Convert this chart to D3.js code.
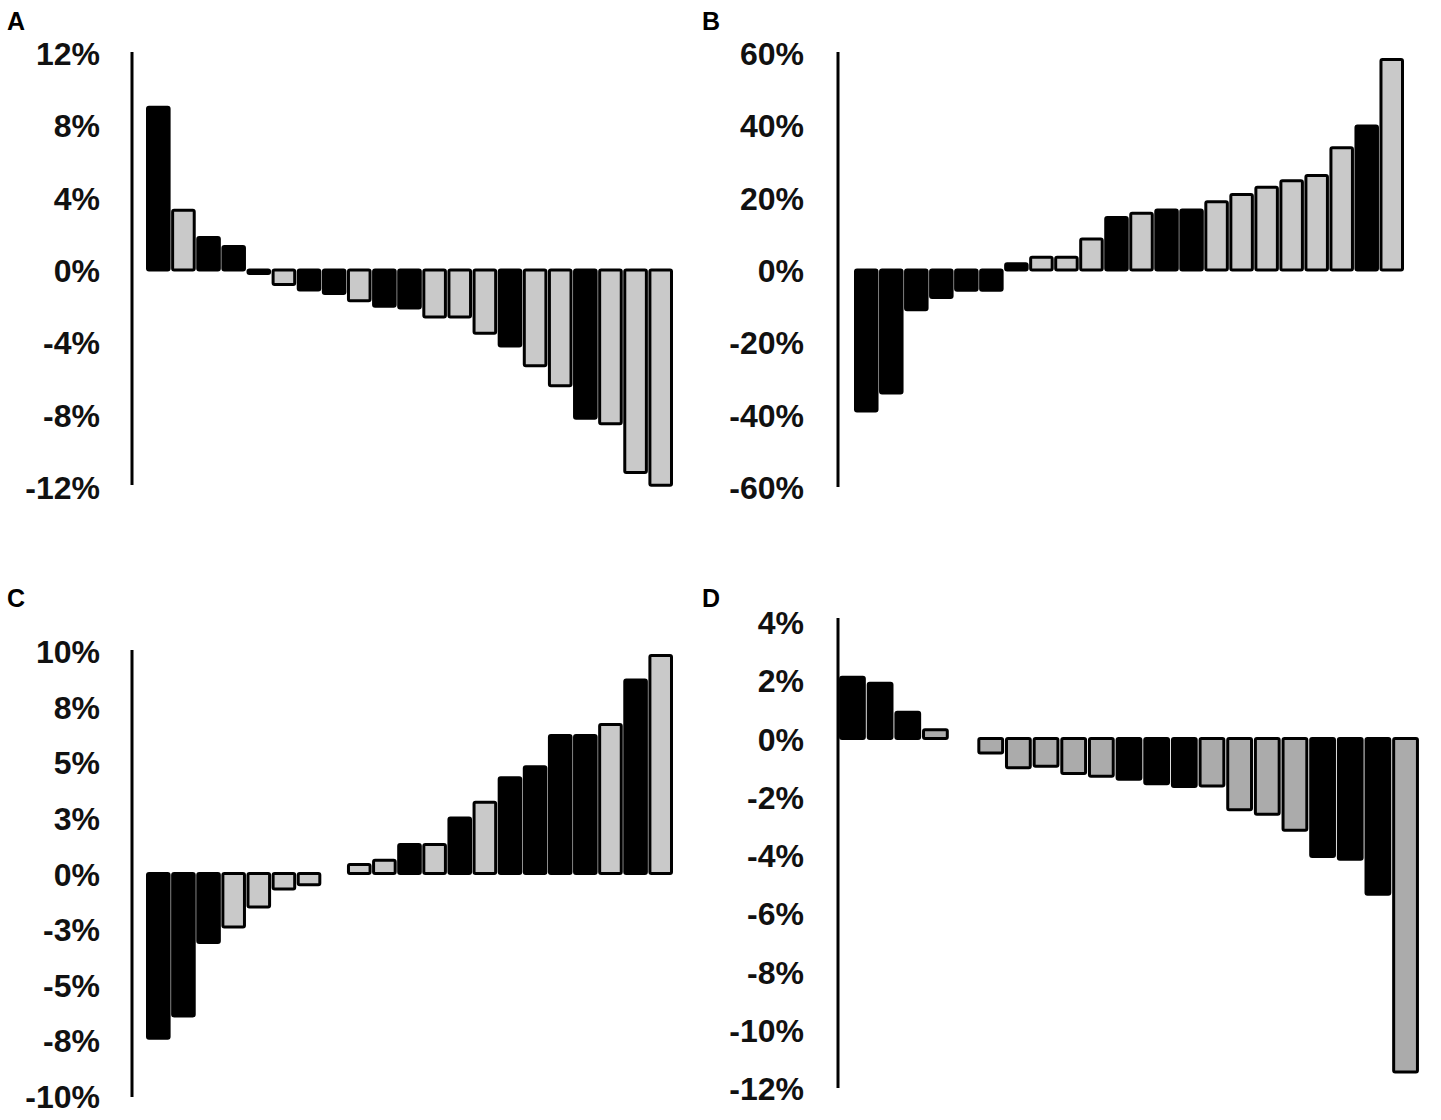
<!DOCTYPE html>
<html>
<head>
<meta charset="utf-8">
<script src="https://cdn.jsdelivr.net/npm/d3@7"></script>
<style>
  body { margin: 0; background: #fff; }
  svg { display: block; }
  .tick text { font-family: "Liberation Sans", Arial, sans-serif; font-weight: bold; font-size: 32px; fill: #111; }
  .panel-label { font-family: "Liberation Sans", Arial, sans-serif; font-weight: bold; font-size: 25px; fill: #000; }
</style>
</head>
<body>
<div id="chart"></div>
<script>
// panel A
const valuesA = [9.0, 3.3, 1.8, 1.3, -0.2, -0.8, -1.1, -1.3, -1.7, -2.0, -2.1, -2.6, -2.6, -3.5, -4.2, -5.3, -6.4, -8.2, -8.5, -11.2, -11.9];
const groupA  = [1, 0, 1, 1, 1, 0, 1, 1, 0, 1, 1, 0, 0, 0, 1, 0, 0, 1, 0, 0, 0];
const ticksA  = [-12, -8, -4, 0, 4, 8, 12];
const tickLabelsA = ["-12%", "-8%", "-4%", "0%", "4%", "8%", "12%"];

// panel B
const valuesB = [-39, -34, -11, -7.6, -5.6, -5.6, 1.7, 3.5, 3.5, 8.6, 14.5, 15.7, 16.6, 16.6, 18.9, 20.9, 22.9, 24.7, 26.1, 33.8, 39.8, 58.2];
const groupB  = [1, 1, 1, 1, 1, 1, 1, 0, 0, 0, 1, 0, 1, 1, 0, 0, 0, 0, 0, 0, 1, 0];
const ticksB  = [-60, -40, -20, 0, 20, 40, 60];
const tickLabelsB = ["-60%", "-40%", "-20%", "0%", "20%", "40%", "60%"];

// panel C (slot 8 has no bar)
const valuesC = [-7.4, -6.4, -3.1, -2.4, -1.5, -0.7, -0.5, null, 0.4, 0.6, 1.3, 1.3, 2.5, 3.2, 4.3, 4.8, 6.2, 6.2, 6.7, 8.7, 9.8];
const groupC  = [1, 1, 1, 0, 0, 0, 0, null, 0, 0, 1, 0, 1, 0, 1, 1, 1, 1, 0, 1, 0];
const ticksC  = [-10, -7.5, -5, -2.5, 0, 2.5, 5, 7.5, 10];
const tickLabelsC = ["-10%", "-8%", "-5%", "-3%", "0%", "3%", "5%", "8%", "10%"];

// panel D (slot 5 has no bar)
const valuesD = [2.1, 1.9, 0.9, 0.3, null, -0.5, -1.0, -0.95, -1.2, -1.3, -1.4, -1.55, -1.65, -1.63, -2.45, -2.6, -3.15, -4.05, -4.15, -5.35, -11.45];
const groupD  = [1, 1, 1, 0, null, 0, 0, 0, 0, 0, 1, 1, 1, 0, 0, 0, 0, 1, 1, 1, 0];
const ticksD  = [-12, -10, -8, -6, -4, -2, 0, 2, 4];
const tickLabelsD = ["-12%", "-10%", "-8%", "-6%", "-4%", "-2%", "0%", "2%", "4%"];

const svg = d3.select("#chart").append("svg")
  .attr("width", 1441)
  .attr("height", 1120);

const panels = [
  { name: "A", values: valuesA, groups: groupA, ticks: ticksA, labels: tickLabelsA,
    domain: [-12, 12], yr: [487, 53], ax: 132, xr: [147, 672], pad: 32, ly: 30, lx: 7, gray: "#c9c9c9", axTop: 52, axBot: 485 },
  { name: "B", values: valuesB, groups: groupB, ticks: ticksB, labels: tickLabelsB,
    domain: [-60, 60], yr: [487, 53], ax: 838, xr: [855, 1403], pad: 34, ly: 30, lx: 702, gray: "#c9c9c9", axTop: 52, axBot: 487 },
  { name: "C", values: valuesC, groups: groupC, ticks: ticksC, labels: tickLabelsC,
    domain: [-10, 10], yr: [1096, 651], ax: 132, xr: [147, 672], pad: 32, ly: 607, lx: 7, gray: "#c9c9c9", axTop: 650, axBot: 1097 },
  { name: "D", values: valuesD, groups: groupD, ticks: ticksD, labels: tickLabelsD,
    domain: [-12, 4], yr: [1088, 622], ax: 838, xr: [840, 1418], pad: 34, ly: 607, lx: 702, gray: "#ababab", axTop: 618, axBot: 1088 }
];

panels.forEach(function(p) {
  const g = svg.append("g");

  const y = d3.scaleLinear().domain(p.domain).range(p.yr);
  const x = d3.scaleBand()
    .domain(d3.range(p.values.length))
    .range(p.xr)
    .paddingInner(0.14)
    .paddingOuter(0.02);

  const color = d3.scaleOrdinal().domain([0, 1]).range([p.gray, "#000"]);

  const data = p.values.map(function(v, i) { return { i: i, v: v, g: p.groups[i] }; })
    .filter(function(d) { return d.v !== null; });

  g.selectAll("rect")
    .data(data)
    .enter()
    .append("rect")
    .attr("x", function(d) { return x(d.i); })
    .attr("width", x.bandwidth())
    .attr("y", function(d) { return y(Math.max(0, d.v)); })
    .attr("height", function(d) { return Math.max(1, Math.abs(y(d.v) - y(0))); })
    .attr("rx", 1.5)
    .attr("fill", function(d) { return color(d.g); })
    .attr("stroke", "#000")
    .attr("stroke-width", 3);

  // y axis: a plain vertical line with labels, no tick marks
  const axis = g.append("g")
    .attr("transform", "translate(" + p.ax + ",0)")
    .call(d3.axisLeft(y)
      .tickValues(p.ticks)
      .tickSize(0)
      .tickPadding(p.pad)
      .tickFormat(function(d, i) { return p.labels[i]; }));

  axis.select(".domain").remove();
  axis.selectAll(".tick text").attr("dy", "0.36em");

  g.append("line")
    .attr("x1", p.ax).attr("x2", p.ax)
    .attr("y1", p.axTop).attr("y2", p.axBot)
    .attr("stroke", "#000")
    .attr("stroke-width", 3);

  g.append("text")
    .attr("class", "panel-label")
    .attr("x", p.lx)
    .attr("y", p.ly)
    .text(p.name);
});
</script>
</body>
</html>
